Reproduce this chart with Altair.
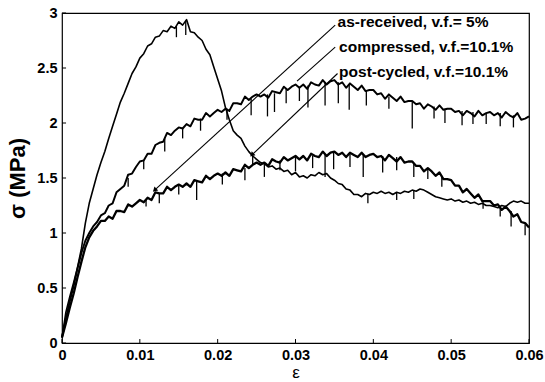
import altair as alt
import pandas as pd

# strain grid (ε)
EPS = [0.0, 0.0005, 0.001, 0.0015, 0.002, 0.0025, 0.003, 0.0035, 0.004, 0.0045,
       0.005, 0.0055, 0.006, 0.0065, 0.007, 0.0075, 0.008, 0.0085, 0.009, 0.0095,
       0.010, 0.0105, 0.011, 0.0115, 0.012, 0.0125, 0.013, 0.0135, 0.014, 0.0145,
       0.015, 0.0155, 0.016, 0.0165, 0.017, 0.0175, 0.018, 0.0185, 0.019, 0.0195,
       0.020, 0.0205, 0.021, 0.0215, 0.022, 0.0225, 0.023, 0.0235, 0.024, 0.0245,
       0.025, 0.0255, 0.026, 0.0265, 0.027, 0.0275, 0.028, 0.0285, 0.029, 0.0295,
       0.030, 0.0305, 0.031, 0.0315, 0.032, 0.0325, 0.033, 0.0335, 0.034, 0.0345,
       0.035, 0.0355, 0.036, 0.0365, 0.037, 0.0375, 0.038, 0.0385, 0.039, 0.0395,
       0.040, 0.0405, 0.041, 0.0415, 0.042, 0.0425, 0.043, 0.0435, 0.044, 0.0445,
       0.045, 0.0455, 0.046, 0.0465, 0.047, 0.0475, 0.048, 0.0485, 0.049, 0.0495,
       0.050, 0.0505, 0.051, 0.0515, 0.052, 0.0525, 0.053, 0.0535, 0.054, 0.0545,
       0.055, 0.0555, 0.056, 0.0565, 0.057, 0.0575, 0.058, 0.0585, 0.059, 0.0595,
       0.060]

# stress (MPa)
AS_RECEIVED = [0.05, 0.28, 0.42, 0.55, 0.69, 0.86, 1.09, 1.27, 1.40, 1.53,
               1.64, 1.74, 1.86, 1.97, 2.08, 2.19, 2.27, 2.36, 2.45, 2.51,
               2.59, 2.63, 2.70, 2.72, 2.78, 2.79, 2.84, 2.83, 2.88, 2.86,
               2.92, 2.89, 2.94, 2.83, 2.82, 2.78, 2.75, 2.67, 2.62, 2.51,
               2.40, 2.29, 2.14, 2.03, 1.93, 1.89, 1.86, 1.79, 1.74, 1.70,
               1.67, 1.64, 1.63, 1.60, 1.61, 1.58, 1.59, 1.56, 1.57, 1.53,
               1.55, 1.51, 1.52, 1.50, 1.53, 1.52, 1.55, 1.53, 1.54, 1.50,
               1.48, 1.45, 1.44, 1.40, 1.39, 1.35, 1.35, 1.33, 1.36, 1.35,
               1.37, 1.36, 1.38, 1.36, 1.37, 1.35, 1.37, 1.36, 1.38, 1.37,
               1.39, 1.38, 1.40, 1.39, 1.37, 1.35, 1.33, 1.32, 1.31, 1.30,
               1.31, 1.29, 1.30, 1.28, 1.29, 1.27, 1.28, 1.26, 1.27, 1.25,
               1.25, 1.24, 1.23, 1.25, 1.24, 1.27, 1.29, 1.28, 1.29, 1.27,
               1.27]

COMPRESSED = [0.05, 0.22, 0.38, 0.52, 0.68, 0.82, 0.93, 1.00, 1.06, 1.10,
              1.16, 1.18, 1.25, 1.27, 1.37, 1.40, 1.43, 1.53, 1.54, 1.60,
              1.65, 1.66, 1.72, 1.72, 1.80, 1.82, 1.83, 1.91, 1.89, 1.93,
              1.96, 1.95, 1.99, 1.97, 2.04, 2.03, 2.03, 2.09, 2.06, 2.09,
              2.12, 2.10, 2.13, 2.11, 2.18, 2.18, 2.17, 2.24, 2.21, 2.24,
              2.26, 2.24, 2.26, 2.23, 2.29, 2.28, 2.27, 2.33, 2.30, 2.33,
              2.35, 2.32, 2.35, 2.31, 2.37, 2.35, 2.34, 2.39, 2.35, 2.38,
              2.39, 2.35, 2.37, 2.32, 2.36, 2.33, 2.30, 2.34, 2.29, 2.30,
              2.30, 2.26, 2.27, 2.22, 2.26, 2.23, 2.20, 2.24, 2.19, 2.20,
              2.20, 2.17, 2.18, 2.13, 2.17, 2.15, 2.12, 2.16, 2.12, 2.13,
              2.13, 2.10, 2.11, 2.07, 2.11, 2.09, 2.06, 2.11, 2.07, 2.09,
              2.10, 2.07, 2.09, 2.05, 2.10, 2.07, 2.05, 2.09, 2.03, 2.04,
              2.06]

POST_CYCLED = [0.05, 0.18, 0.32, 0.45, 0.60, 0.74, 0.87, 0.96, 1.02, 1.06,
               1.11, 1.11, 1.15, 1.13, 1.20, 1.20, 1.19, 1.26, 1.24, 1.27,
               1.30, 1.28, 1.32, 1.30, 1.37, 1.36, 1.36, 1.42, 1.39, 1.42,
               1.44, 1.42, 1.45, 1.42, 1.48, 1.47, 1.46, 1.52, 1.49, 1.52,
               1.54, 1.52, 1.55, 1.52, 1.58, 1.57, 1.56, 1.62, 1.59, 1.62,
               1.64, 1.62, 1.64, 1.61, 1.67, 1.65, 1.64, 1.69, 1.66, 1.68,
               1.70, 1.67, 1.70, 1.66, 1.72, 1.70, 1.69, 1.74, 1.70, 1.73,
               1.74, 1.71, 1.73, 1.69, 1.73, 1.71, 1.69, 1.73, 1.69, 1.71,
               1.72, 1.69, 1.70, 1.66, 1.71, 1.68, 1.65, 1.69, 1.64, 1.65,
               1.65, 1.61, 1.61, 1.56, 1.59, 1.56, 1.52, 1.55, 1.49, 1.49,
               1.48, 1.43, 1.43, 1.37, 1.40, 1.36, 1.32, 1.35, 1.29, 1.29,
               1.29, 1.25, 1.26, 1.21, 1.24, 1.20, 1.15, 1.17, 1.10, 1.09,
               1.05]

# downward noise spikes: strain, top, bottom
SPIKE_X = [0.0147, 0.0159, 0.0245, 0.0393, 0.0430, 0.0452,
           0.0085, 0.0105, 0.0132, 0.0155, 0.0178, 0.0212, 0.0243, 0.0264, 0.0273,
           0.0288, 0.0305, 0.0316, 0.0338, 0.0355, 0.0369, 0.0391, 0.0420, 0.0450,
           0.0478, 0.0492, 0.0514, 0.0528, 0.0545, 0.0563, 0.0580,
           0.0108, 0.0125, 0.0150, 0.0173, 0.0206, 0.0235, 0.0260, 0.0280, 0.0300,
           0.0322, 0.0338, 0.0349, 0.0370, 0.0387, 0.0412, 0.0430, 0.0452, 0.0470,
           0.0488, 0.0541, 0.0563, 0.0577, 0.0595]
SPIKE_TOP = [2.88, 2.93, 1.70, 1.36, 1.37, 1.39,
             1.50, 1.66, 1.86, 1.95, 2.04, 2.13, 2.22, 2.26, 2.27,
             2.31, 2.33, 2.34, 2.37, 2.37, 2.35, 2.30, 2.24, 2.19,
             2.15, 2.13, 2.11, 2.10, 2.09, 2.09, 2.07,
             1.31, 1.36, 1.44, 1.47, 1.54, 1.59, 1.63, 1.66, 1.70,
             1.70, 1.72, 1.73, 1.72, 1.71, 1.70, 1.69, 1.63, 1.58,
             1.52, 1.30, 1.24, 1.20, 1.08]
SPIKE_LOW = [2.78, 2.80, 1.62, 1.27, 1.30, 1.31,
             1.42, 1.58, 1.74, 1.86, 1.93, 2.03, 2.07, 2.06, 2.10,
             2.18, 2.20, 2.14, 2.16, 2.18, 2.12, 2.16, 2.13, 1.95,
             2.04, 2.00, 1.98, 1.99, 1.99, 1.97, 1.96,
             1.24, 1.27, 1.35, 1.30, 1.44, 1.48, 1.51, 1.57, 1.56,
             1.59, 1.51, 1.58, 1.60, 1.51, 1.55, 1.57, 1.51, 1.49,
             1.42, 1.22, 1.15, 1.06, 0.98]

# annotations
LABELS = ["as-received, v.f.= 5%", "compressed, v.f.=10.1%", "post-cycled, v.f.=10.1%"]
LABEL_X = [0.0354, 0.0356, 0.0356]
LABEL_Y = [2.92, 2.695, 2.465]
LEADER_X1 = [0.0351, 0.0351, 0.0354]
LEADER_Y1 = [2.89, 2.69, 2.45]
LEADER_X2 = [0.0119, 0.0302, 0.0244]
LEADER_Y2 = [1.39, 2.38, 1.71]
ARROW_X = [0.0119, 0.0244]
ARROW_Y = [1.39, 1.71]
ARROW_ANGLE = [227, 226]

X_TICKS = [0, 0.01, 0.02, 0.03, 0.04, 0.05, 0.06]
Y_TICKS = [0, 0.5, 1, 1.5, 2, 2.5, 3]

FONT = "Liberation Sans"

rows = []
for name, ys in [("as-received", AS_RECEIVED), ("compressed", COMPRESSED), ("post-cycled", POST_CYCLED)]:
    for e, s in zip(EPS, ys):
        rows.append({"series": name, "eps": e, "sigma": s})
curves = pd.DataFrame(rows)
spikes = pd.DataFrame({"eps": SPIKE_X, "top": SPIKE_TOP, "low": SPIKE_LOW})
labels = pd.DataFrame({"text": LABELS, "x": LABEL_X, "y": LABEL_Y})
leaders = pd.DataFrame({"x1": LEADER_X1, "y1": LEADER_Y1, "x2": LEADER_X2, "y2": LEADER_Y2})
arrows = pd.DataFrame({"x": ARROW_X, "y": ARROW_Y, "a": ARROW_ANGLE})
xt = pd.DataFrame({"v": X_TICKS})
yt = pd.DataFrame({"v": Y_TICKS})

xscale = alt.Scale(domain=[0, 0.06], nice=False, zero=False)
yscale = alt.Scale(domain=[0, 3], nice=False, zero=False)

xaxis = alt.Axis(values=X_TICKS, title="ε", grid=False, domain=False, ticks=False, tickSize=0,
                 labelExpr="datum.value == 0 ? '0' : format(datum.value, '.2f')",
                 labelFont=FONT, labelFontSize=14.5, labelFontWeight="bold", labelColor="black",
                 labelPadding=5, labelFlush=False, labelOverlap=False,
                 titleFont=FONT, titleFontSize=17, titleFontWeight="normal", titleColor="black",
                 titlePadding=3)
yaxis = alt.Axis(values=Y_TICKS, title="σ (MPa)", grid=False, domain=False, ticks=False, tickSize=0,
                 labelExpr="format(datum.value, '~g')",
                 labelFont=FONT, labelFontSize=14.5, labelFontWeight="bold", labelColor="black",
                 labelPadding=5, labelFlush=False, labelOverlap=False,
                 titleFont=FONT, titleFontSize=22, titleFontWeight="bold", titleColor="black",
                 titlePadding=7)

base_lines = alt.Chart(curves).mark_line(color="black", strokeJoin="round").encode(
    x=alt.X("eps:Q", scale=xscale, axis=xaxis),
    y=alt.Y("sigma:Q", scale=yscale, axis=yaxis),
    detail="series:N",
    order="eps:Q",
    strokeWidth=alt.StrokeWidth("series:N", legend=None,
                                scale=alt.Scale(domain=["as-received", "compressed", "post-cycled"],
                                                range=[1.6, 2.3, 2.3])),
)

spike_rules = alt.Chart(spikes).mark_rule(color="black", strokeWidth=1.3).encode(
    x=alt.X("eps:Q", scale=xscale), y=alt.Y("top:Q", scale=yscale), y2="low:Q")

leader_rules = alt.Chart(leaders).mark_rule(color="black", strokeWidth=1.1).encode(
    x=alt.X("x1:Q", scale=xscale), y=alt.Y("y1:Q", scale=yscale), x2="x2:Q", y2="y2:Q")

arrow_heads = alt.Chart(arrows).mark_point(shape="triangle-up", filled=True, color="black", size=30, opacity=1).encode(
    x=alt.X("x:Q", scale=xscale), y=alt.Y("y:Q", scale=yscale), angle=alt.Angle("a:Q", scale=None))

label_text = alt.Chart(labels).mark_text(align="left", baseline="middle", font=FONT, fontSize=15.5,
                                         fontWeight="bold", color="black").encode(
    x=alt.X("x:Q", scale=xscale), y=alt.Y("y:Q", scale=yscale), text="text:N")

x_ticks = alt.Chart(xt).mark_rule(color="black", strokeWidth=1).encode(
    x=alt.X("v:Q", scale=xscale), y=alt.datum(0), y2=alt.datum(0.036))
y_ticks = alt.Chart(yt).mark_rule(color="black", strokeWidth=1).encode(
    y=alt.Y("v:Q", scale=yscale), x=alt.datum(0), x2=alt.datum(0.00052))

chart = alt.layer(base_lines, spike_rules, leader_rules, arrow_heads, label_text, x_ticks, y_ticks).properties(
    width=467, height=330,
    autosize=alt.AutoSizeParams(type="none"),
    padding={"left": 62, "top": 13, "right": 16, "bottom": 39},
    background="white",
).configure_view(stroke="black", strokeWidth=1.2)

chart.save("out.html", embed_options={"renderer": "svg", "actions": False})
